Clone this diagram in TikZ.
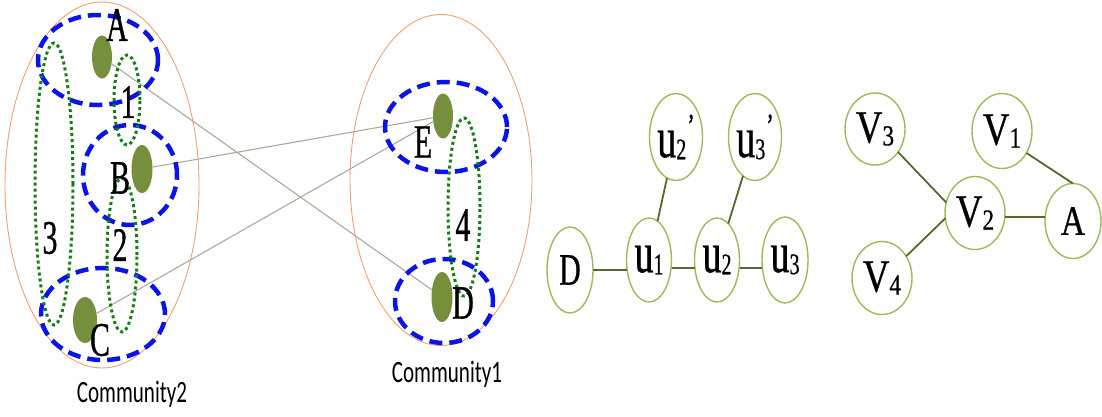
\documentclass[tikz,border=0pt]{standalone}
\usepackage{fontspec}
\usetikzlibrary{shapes.geometric}
\newfontfamily\lfont[FakeStretch=0.62,FakeBold=0.7]{Liberation Serif}
\newfontfamily\gfa[FakeStretch=0.66,FakeBold=0.6]{Liberation Serif}
\newfontfamily\gfb[FakeStretch=0.8,FakeBold=0.6]{Liberation Serif}
\newfontfamily\cfont[FakeStretch=0.68]{Carlito}
\definecolor{dashblue}{RGB}{10,20,230}
\definecolor{dotgreen}{RGB}{20,125,20}
\definecolor{commorange}{RGB}{240,160,110}
\definecolor{dotolive}{RGB}{118,143,60}
\definecolor{linkgray}{RGB}{170,170,155}
\definecolor{nodegreen}{RGB}{155,187,89}
\definecolor{edgeolive}{RGB}{85,105,45}
\newcommand\usub[3][]{{\fontsize{58}{58}\selectfont #2}\raisebox{-2pt}{\fontsize{30}{30}\selectfont #3}#1}
\newcommand\vsub[2]{{\fontsize{46}{46}\selectfont #1}\raisebox{-3pt}{\fontsize{29}{29}\selectfont #2}}
\newcommand\uprime{\kern1pt\raisebox{20pt}{\fontsize{34}{34}\selectfont ’}}
\begin{document}
\begin{tikzpicture}[x=1pt,y=-1pt,
  comm/.style={ellipse, draw=commorange, line width=0.9pt, inner sep=0, outer sep=0},
  grp/.style={ellipse, draw=dashblue, line width=4.5pt, dash pattern=on 13pt off 7pt, inner sep=0, outer sep=0},
  lp/.style={ellipse, draw=dotgreen, line width=3pt, dash pattern=on 3pt off 3pt, inner sep=0, outer sep=0},
  vert/.style={ellipse, fill=dotolive, inner sep=0, outer sep=0},
  shade/.style={ellipse, fill=black!25, inner sep=0, outer sep=0},
  link/.style={draw=linkgray, line width=1.1pt},
  lab/.style={inner sep=0, font=\lfont\fontsize{48}{48}\selectfont},
  clab/.style={inner sep=0, font=\cfont\fontsize{31}{31}\selectfont},
  gnode/.style={ellipse, draw=nodegreen, line width=1.4pt, inner sep=0, outer sep=0},
  gedge/.style={draw=edgeolive, line width=1.8pt}]
\useasboundingbox (0,0) rectangle (1102,416);
% communities
\node[comm, minimum width=194pt, minimum height=366pt] (cL) at (102,185) {};
\node[comm, minimum width=182pt, minimum height=331pt] (cR) at (441,180) {};
% dots
\node[vert, minimum width=20pt, minimum height=43pt] (dA) at (102,57) {};
\node[vert, minimum width=21pt, minimum height=48pt] (dB) at (142,169) {};
\node[vert, minimum width=24pt, minimum height=46pt] (dC) at (85,320) {};
\node[vert, minimum width=20pt, minimum height=45pt] (dE) at (443,116) {};
\node[vert, minimum width=21pt, minimum height=50pt] (dD) at (442,297) {};
% links
\draw[link] (dA) -- (dD);
\draw[link] (dB) -- (dE);
\draw[link] (dC) -- (dE);
% groups
\node[grp, minimum width=120pt, minimum height=90pt] (gA) at (98,60) {};
\node[grp, minimum width=94pt, minimum height=100pt] (gB) at (130,175) {};
\node[grp, minimum width=124pt, minimum height=92pt] (gC) at (103,314) {};
\node[grp, minimum width=122pt, minimum height=90pt] (gE) at (446,127) {};
\node[grp, minimum width=98pt, minimum height=84pt] (gD) at (444,301) {};
% loops
\node[lp, minimum width=26pt, minimum height=90pt] (l1) at (127,100) {};
\node[lp, minimum width=30pt, minimum height=154pt] (l2) at (122,255) {};
\node[lp, minimum width=38pt, minimum height=282pt] (l3) at (54,184) {};
\node[lp, minimum width=32pt, minimum height=178pt] (l4) at (464,207) {};
% labels
\node[lab] (tA) at (117,25) {A};
\node[lab] (tB) at (120,178) {B};
\node[lab] (tC) at (100,340) {C};
\node[lab] (tE) at (423,142) {E};
\node[lab] (tD) at (463,303) {D};
\node[lab] (t1) at (128,102) {1};
\node[lab] (t2) at (120,245) {2};
\node[lab] (t3) at (50,238) {3};
\node[lab] (t4) at (463,225) {4};
\node[clab] (c2) at (132,394) {Community2};
\node[clab] (c1) at (447,374) {Community1};
% graph 1
\node[gnode, minimum width=46pt, minimum height=86pt, font=\gfa\fontsize{45}{45}\selectfont] (nD) at (570,270) {D};
\node[gnode, minimum width=45pt, minimum height=84pt, font=\gfa] (nu1) at (649,260) {\usub{u}{1}};
\node[gnode, minimum width=45pt, minimum height=84pt, font=\gfa] (nu2) at (717,260) {\usub{u}{2}};
\node[gnode, minimum width=46pt, minimum height=86pt, font=\gfa] (nu3) at (785,260) {\usub{u}{3}};
\node[gnode, minimum width=48pt, minimum height=87pt, font=\gfa] (nu2p) at (676,137) {\usub[\uprime]{u}{2}};
\node[gnode, minimum width=50pt, minimum height=87pt, font=\gfa] (nu3p) at (755,137) {\usub[\uprime]{u}{3}};
\draw[gedge] (nD.east) -- (nD.east -| nu1.west);
\draw[gedge] ([yshift=-8pt]nu1.east) -- ([yshift=-8pt]nu2.west);
\draw[gedge] ([yshift=-8pt]nu2.east) -- ([yshift=-8pt]nu3.west);
\draw[gedge] (nu2p) -- (nu1);
\draw[gedge] (nu3p) -- (nu2);
% graph 2
\node[gnode, minimum width=60pt, minimum height=72pt, font=\gfb] (nV3) at (875,129) {\vsub{V}{3}};
\node[gnode, minimum width=60pt, minimum height=75pt, font=\gfb] (nV1) at (1002,131) {\vsub{V}{1}};
\node[gnode, minimum width=60pt, minimum height=73pt, font=\gfb] (nV2) at (975,213) {\vsub{V}{2}};
\node[gnode, minimum width=56pt, minimum height=75pt, font=\gfb\fontsize{42}{42}\selectfont] (nA) at (1073,221) {A};
\node[gnode, minimum width=60pt, minimum height=73pt, font=\gfb] (nV4) at (882,278) {\vsub{V}{4}};
\draw[gedge] (nV3.315) -- (nV2.160);
\draw[gedge] (nV4.42) -- (nV2.190);
\draw[gedge] (nV1.318) -- (nA.north);
\draw[gedge] ([yshift=-4pt]nV2.east) -- ([yshift=-4pt]nV2.east -| nA.west);
\end{tikzpicture}
\end{document}
